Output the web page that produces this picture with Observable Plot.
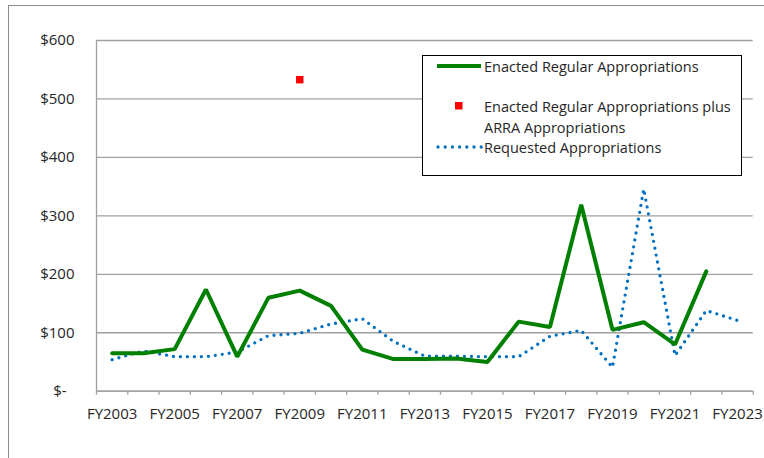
<!DOCTYPE html>
<html>
<head>
<meta charset="utf-8">
<script src="https://cdn.jsdelivr.net/npm/d3@7"></script>
<script src="https://cdn.jsdelivr.net/npm/@observablehq/plot@0.6"></script>
<style>
  html, body { margin: 0; padding: 0; background: #fff; }
  #wrap { position: relative; width: 764px; height: 458px; overflow: hidden; font-family: "Open Sans", sans-serif; }
  #frame { position: absolute; left: 8px; top: 5px; width: 800px; height: 500px; border-left: 1.3px solid #8c8c8c; border-top: 1.3px solid #8c8c8c; }
  #legend { position: absolute; left: 422px; top: 55px; width: 318px; height: 119px; border: 1.5px solid #000; background: #fff; font-size: 14.5px; color: #262626; }
  .item { position: absolute; left: 0; display: flex; align-items: center; }
  .item svg { display: block; }
  .lbl { line-height: 21px; }
</style>
</head>
<body>
<div id="wrap">
  <div id="frame"></div>
  <div id="chart"></div>
  <div id="legend">
    <div class="item" style="top:0px;left:13px;height:20px;">
      <svg width="48" height="20"><line x1="1" y1="10" x2="45" y2="10" stroke="#008000" stroke-width="4"/></svg>
      <span class="lbl">Enacted Regular Appropriations</span>
    </div>
    <div class="item" style="top:40px;left:13px;align-items:flex-start;">
      <svg width="48" height="22"><rect x="19" y="6" width="7.5" height="7.5" fill="#ff0000"/></svg>
      <span class="lbl">Enacted Regular Appropriations plus<br>ARRA Appropriations</span>
    </div>
    <div class="item" style="top:81px;left:13px;height:20px;">
      <svg width="48" height="20"><line x1="2" y1="10" x2="46" y2="10" stroke="#0070c0" stroke-width="3.3" stroke-linecap="round" stroke-dasharray="0 7.2"/></svg>
      <span class="lbl">Requested Appropriations</span>
    </div>
  </div>
</div>
<script>
// Fiscal years (numeric) for each category
const years = [2003, 2004, 2005, 2006, 2007, 2008, 2009, 2010, 2011, 2012, 2013,
               2014, 2015, 2016, 2017, 2018, 2019, 2020, 2021, 2022, 2023];
// Enacted regular appropriations (millions $), FY2003–FY2022
const enacted = [65, 65, 72, 174, 59, 160, 172, 146, 71, 55, 55,
                 56, 50, 119, 110, 319, 105, 118, 80, 205, null];
// Requested appropriations, FY2003–FY2023
const requested = [54, 69, 59, 59, 67, 95, 99, 115, 124, 85, 60,
                   60, 59, 59, 94, 104, 41, 346, 61, 138, 121];
// Enacted plus ARRA (FY2009 only)
const arraYears = [2009];
const arraValues = [533];
// Axis ticks
const xLabelYears = [2003, 2005, 2007, 2009, 2011, 2013, 2015, 2017, 2019, 2021, 2023];
const yTicks = [0, 100, 200, 300, 400, 500, 600];

const enactedData = years.map((y, i) => ({year: y, value: enacted[i]})).filter(d => d.value != null);
const requestedData = years.map((y, i) => ({year: y, value: requested[i]}));
const arraData = arraYears.map((y, i) => ({year: y, value: arraValues[i]}));
const boundaries = d3.range(years[0] - 0.5, years[years.length - 1] + 1, 1);

const chart = Plot.plot({
  width: 764,
  height: 458,
  marginLeft: 96,
  marginRight: 11.3,
  marginTop: 40,
  marginBottom: 67.3,
  style: {fontFamily: "Open Sans, sans-serif", fontSize: "15px", color: "#262626", background: "transparent"},
  x: {type: "linear", domain: [years[0] - 0.5, years[years.length - 1] + 0.5]},
  y: {domain: [0, 600]},
  marks: [
    Plot.gridY(yTicks, {stroke: "#a0a0a0", strokeOpacity: 1, strokeWidth: 1.3}),
    Plot.ruleX([years[0] - 0.5], {stroke: "#a0a0a0", strokeWidth: 1.3}),
    Plot.ruleY([0], {stroke: "#a0a0a0", strokeWidth: 1.3}),
    Plot.axisY({ticks: yTicks, tickSize: 0, tickPadding: 22, label: null,
      tickFormat: d => d === 0 ? "$-\u00a0\u00a0" : "$" + d, fill: "#262626", fontSize: 15}),
    Plot.axisX({ticks: boundaries, tickSize: 4, tickFormat: () => "", label: null, stroke: "#a0a0a0", strokeWidth: 1.3}),
    Plot.axisX({ticks: xLabelYears, tickSize: 0, tickPadding: 17, label: null,
      tickFormat: d => "FY" + d, fill: "#262626", fontSize: 15}),
    Plot.line(requestedData, {x: "year", y: "value", stroke: "#0070c0", strokeWidth: 3.3,
      strokeDasharray: "0 7", strokeLinecap: "round", strokeLinejoin: "round", curve: "linear"}),
    Plot.line(enactedData, {x: "year", y: "value", stroke: "#008000", strokeWidth: 4, strokeLinejoin: "miter"}),
    Plot.dot(arraData, {x: "year", y: "value", symbol: "square", r: 4.2, fill: "#ff0000", stroke: "none"})
  ]
});
document.getElementById("chart").appendChild(chart);
</script>
</body>
</html>
